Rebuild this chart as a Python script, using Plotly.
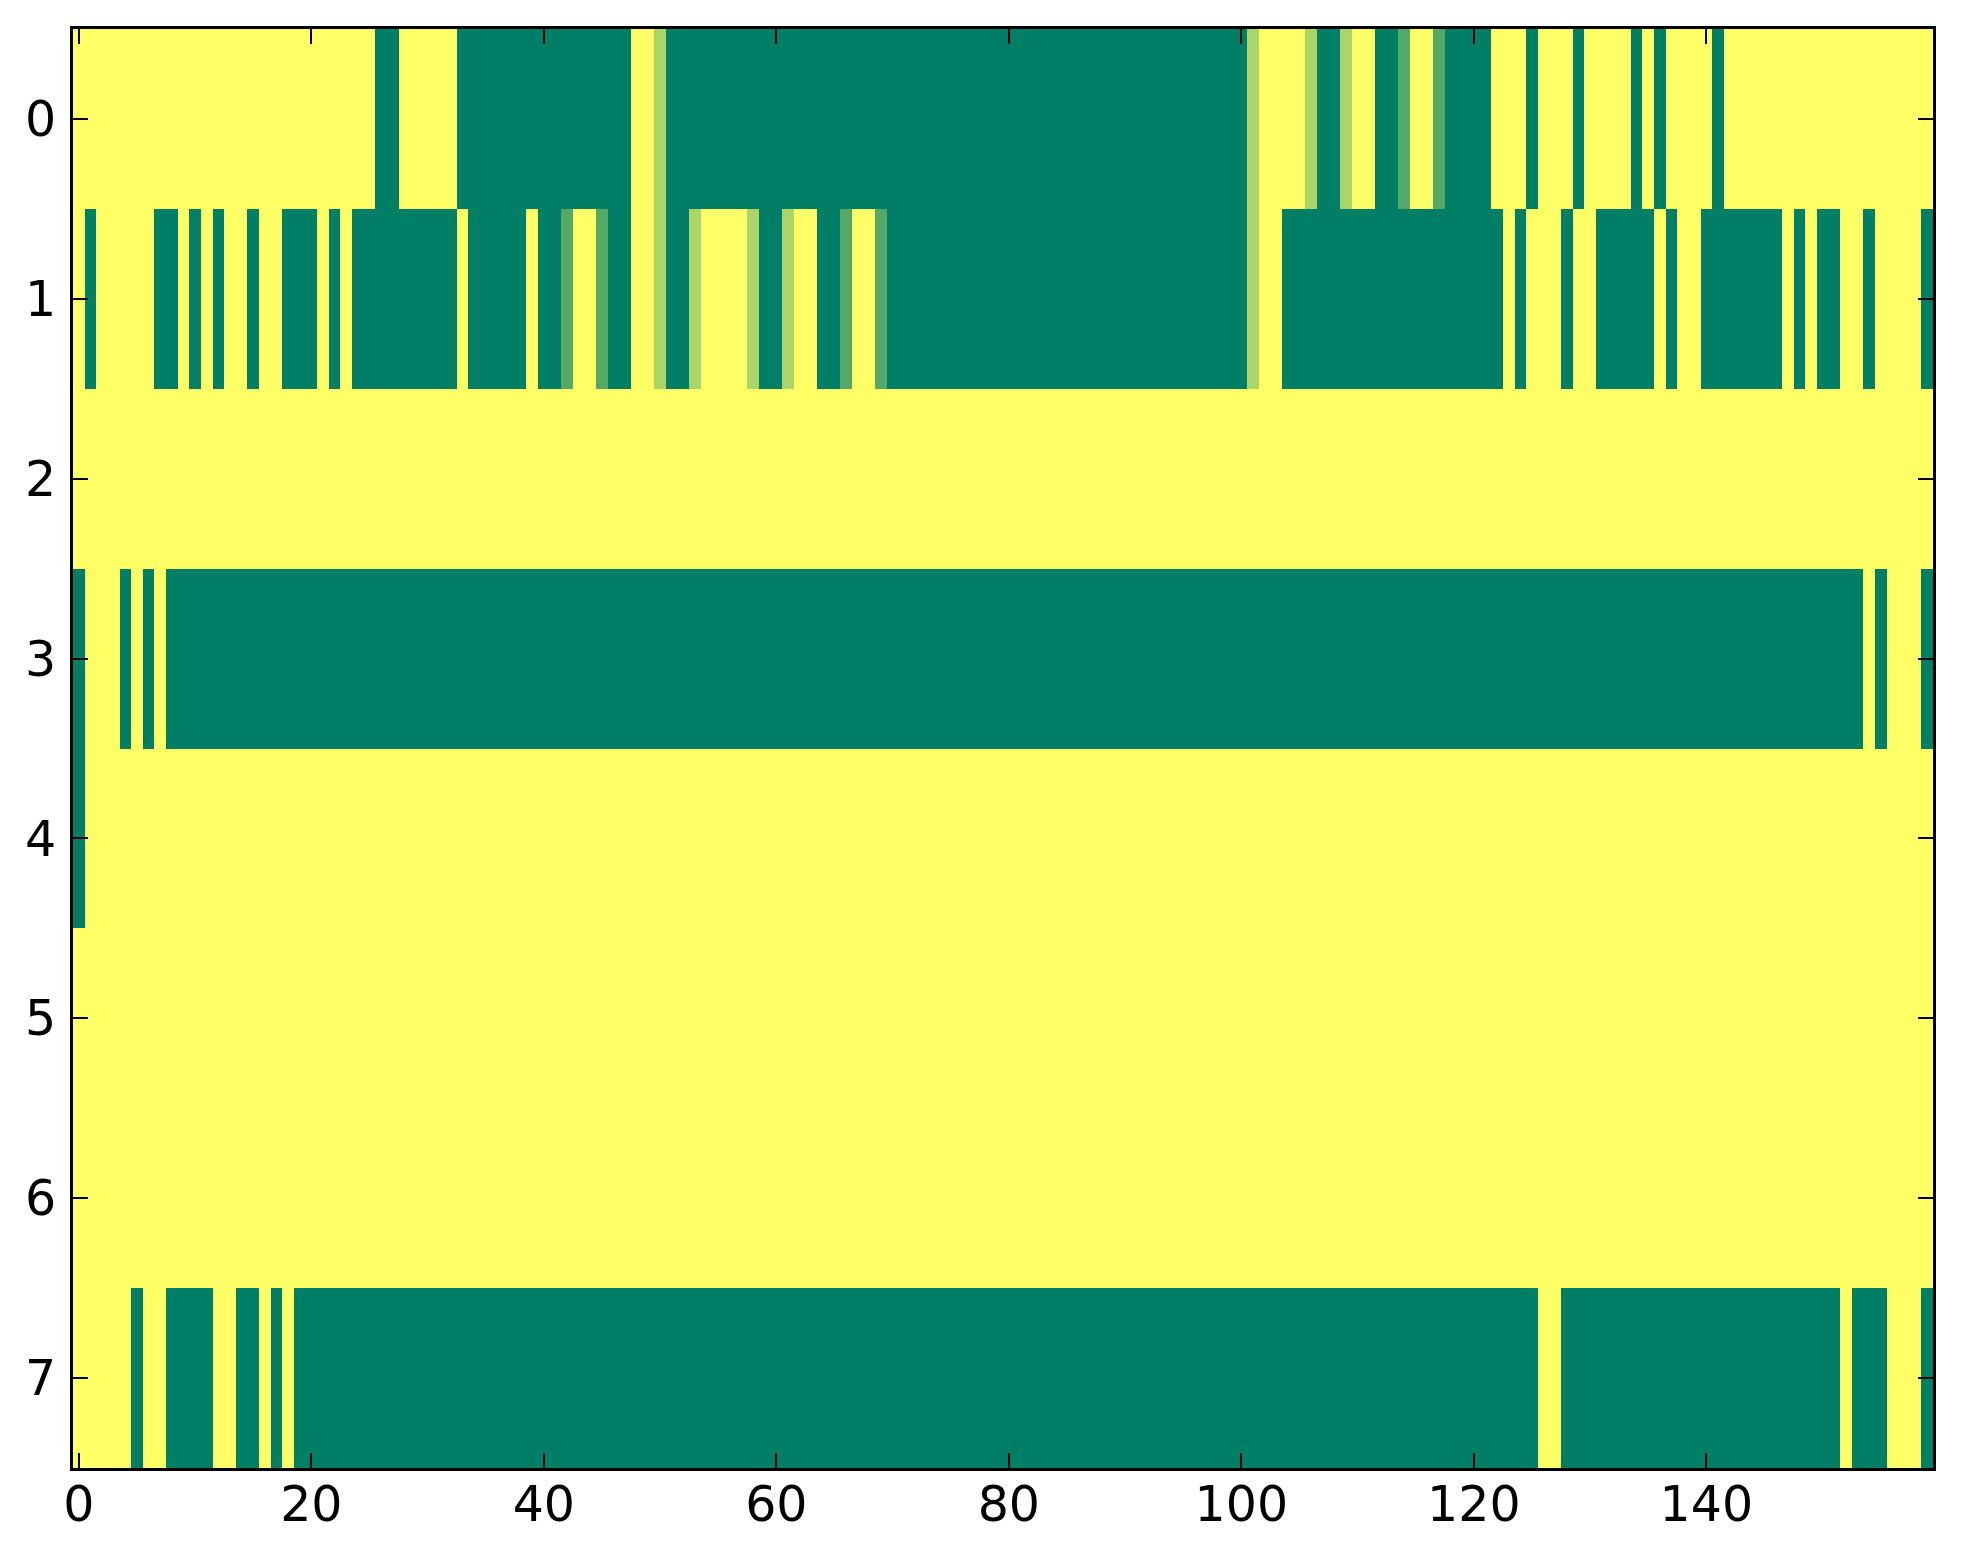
import plotly.graph_objects as go

# values per cell (0 = dark green, 1 = yellow)
row0 = [1, 1, 1, 1, 1, 1, 1, 1, 1, 1, 1, 1, 1, 1, 1, 1, 1, 1, 1, 1,
        1, 1, 1, 1, 1, 1, 0, 0, 1, 1, 1, 1, 1, 0, 0, 0, 0, 0, 0, 0,
        0, 0, 0, 0, 0, 0, 0, 0, 1, 1, .67, 0, 0, 0, 0, 0, 0, 0, 0, 0,
        0, 0, 0, 0, 0, 0, 0, 0, 0, 0, 0, 0, 0, 0, 0, 0, 0, 0, 0, 0,
        0, 0, 0, 0, 0, 0, 0, 0, 0, 0, 0, 0, 0, 0, 0, 0, 0, 0, 0, 0,
        0, .67, 1, 1, 1, 1, .67, 0, 0, .67, 1, 1, 0, 0, .33, 1, 1, .33, 0, 0,
        0, 0, 1, 1, 1, 0, 1, 1, 1, 0, 1, 1, 1, 1, 0, 1, 0, 1, 1, 1,
        1, 0, 1, 1, 1, 1, 1, 1, 1, 1, 1, 1, 1, 1, 1, 1, 1, 1, 1, 1]

row1 = [1, 0, 1, 1, 1, 1, 1, 0, 0, 1, 0, 1, 0, 1, 1, 0, 1, 1, 0, 0,
        0, 1, 0, 1, 0, 0, 0, 0, 0, 0, 0, 0, 0, 1, 0, 0, 0, 0, 0, 1,
        0, 0, .33, 1, 1, .33, 0, 0, 1, 1, .67, 0, 0, .67, 1, 1, 1, 1, .67, 0,
        0, .67, 1, 1, 0, 0, .33, 1, 1, .33, 0, 0, 0, 0, 0, 0, 0, 0, 0, 0,
        0, 0, 0, 0, 0, 0, 0, 0, 0, 0, 0, 0, 0, 0, 0, 0, 0, 0, 0, 0,
        0, .67, 1, 1, 0, 0, 0, 0, 0, 0, 0, 0, 0, 0, 0, 0, 0, 0, 0, 0,
        0, 0, 0, 1, 0, 1, 1, 1, 0, 1, 1, 0, 0, 0, 0, 0, 1, 0, 1, 1,
        0, 0, 0, 0, 0, 0, 0, 1, 0, 1, 0, 0, 1, 1, 0, 1, 1, 1, 1, 0]

row2 = [1, 1, 1, 1, 1, 1, 1, 1, 1, 1, 1, 1, 1, 1, 1, 1, 1, 1, 1, 1,
        1, 1, 1, 1, 1, 1, 1, 1, 1, 1, 1, 1, 1, 1, 1, 1, 1, 1, 1, 1,
        1, 1, 1, 1, 1, 1, 1, 1, 1, 1, 1, 1, 1, 1, 1, 1, 1, 1, 1, 1,
        1, 1, 1, 1, 1, 1, 1, 1, 1, 1, 1, 1, 1, 1, 1, 1, 1, 1, 1, 1,
        1, 1, 1, 1, 1, 1, 1, 1, 1, 1, 1, 1, 1, 1, 1, 1, 1, 1, 1, 1,
        1, 1, 1, 1, 1, 1, 1, 1, 1, 1, 1, 1, 1, 1, 1, 1, 1, 1, 1, 1,
        1, 1, 1, 1, 1, 1, 1, 1, 1, 1, 1, 1, 1, 1, 1, 1, 1, 1, 1, 1,
        1, 1, 1, 1, 1, 1, 1, 1, 1, 1, 1, 1, 1, 1, 1, 1, 1, 1, 1, 1]

row3 = [0, 1, 1, 1, 0, 1, 0, 1, 0, 0, 0, 0, 0, 0, 0, 0, 0, 0, 0, 0,
        0, 0, 0, 0, 0, 0, 0, 0, 0, 0, 0, 0, 0, 0, 0, 0, 0, 0, 0, 0,
        0, 0, 0, 0, 0, 0, 0, 0, 0, 0, 0, 0, 0, 0, 0, 0, 0, 0, 0, 0,
        0, 0, 0, 0, 0, 0, 0, 0, 0, 0, 0, 0, 0, 0, 0, 0, 0, 0, 0, 0,
        0, 0, 0, 0, 0, 0, 0, 0, 0, 0, 0, 0, 0, 0, 0, 0, 0, 0, 0, 0,
        0, 0, 0, 0, 0, 0, 0, 0, 0, 0, 0, 0, 0, 0, 0, 0, 0, 0, 0, 0,
        0, 0, 0, 0, 0, 0, 0, 0, 0, 0, 0, 0, 0, 0, 0, 0, 0, 0, 0, 0,
        0, 0, 0, 0, 0, 0, 0, 0, 0, 0, 0, 0, 0, 0, 1, 0, 1, 1, 1, 0]

row4 = [0, 1, 1, 1, 1, 1, 1, 1, 1, 1, 1, 1, 1, 1, 1, 1, 1, 1, 1, 1,
        1, 1, 1, 1, 1, 1, 1, 1, 1, 1, 1, 1, 1, 1, 1, 1, 1, 1, 1, 1,
        1, 1, 1, 1, 1, 1, 1, 1, 1, 1, 1, 1, 1, 1, 1, 1, 1, 1, 1, 1,
        1, 1, 1, 1, 1, 1, 1, 1, 1, 1, 1, 1, 1, 1, 1, 1, 1, 1, 1, 1,
        1, 1, 1, 1, 1, 1, 1, 1, 1, 1, 1, 1, 1, 1, 1, 1, 1, 1, 1, 1,
        1, 1, 1, 1, 1, 1, 1, 1, 1, 1, 1, 1, 1, 1, 1, 1, 1, 1, 1, 1,
        1, 1, 1, 1, 1, 1, 1, 1, 1, 1, 1, 1, 1, 1, 1, 1, 1, 1, 1, 1,
        1, 1, 1, 1, 1, 1, 1, 1, 1, 1, 1, 1, 1, 1, 1, 1, 1, 1, 1, 1]

row5 = list(row2)
row6 = list(row2)

row7 = [1, 1, 1, 1, 1, 0, 1, 1, 0, 0, 0, 0, 1, 1, 0, 0, 1, 0, 1, 0,
        0, 0, 0, 0, 0, 0, 0, 0, 0, 0, 0, 0, 0, 0, 0, 0, 0, 0, 0, 0,
        0, 0, 0, 0, 0, 0, 0, 0, 0, 0, 0, 0, 0, 0, 0, 0, 0, 0, 0, 0,
        0, 0, 0, 0, 0, 0, 0, 0, 0, 0, 0, 0, 0, 0, 0, 0, 0, 0, 0, 0,
        0, 0, 0, 0, 0, 0, 0, 0, 0, 0, 0, 0, 0, 0, 0, 0, 0, 0, 0, 0,
        0, 0, 0, 0, 0, 0, 0, 0, 0, 0, 0, 0, 0, 0, 0, 0, 0, 0, 0, 0,
        0, 0, 0, 0, 0, 0, 1, 1, 0, 0, 0, 0, 0, 0, 0, 0, 0, 0, 0, 0,
        0, 0, 0, 0, 0, 0, 0, 0, 0, 0, 0, 0, 1, 0, 0, 0, 1, 1, 1, 0]

rows = [row0, row1, row2, row3, row4, row5, row6, row7]
for r in rows:
    assert len(r) == 160, len(r)

x_ticks = [0, 20, 40, 60, 80, 100, 120, 140]
y_ticks = [0, 1, 2, 3, 4, 5, 6, 7]

# matplotlib "summer": green (0) -> yellow (1), linear in rgb
summer = [[0.0, 'rgb(0,127,102)'], [1.0, 'rgb(255,255,102)']]

fig = go.Figure()
fig.add_trace(go.Heatmap(z=rows, x0=0, dx=1, y0=0, dy=1,
                         colorscale=summer, zmin=0, zmax=1,
                         showscale=False, hoverinfo='skip'))

axis_style = dict(showline=True, linecolor='black', linewidth=3,
                  mirror='ticks', ticks='inside', ticklen=15, tickwidth=1.5,
                  tickcolor='black', showgrid=False, zeroline=False)

fig.update_xaxes(range=[-0.5, 159.5], tickvals=x_ticks,
                 ticklabelstandoff=-9, **axis_style)
fig.update_yaxes(range=[7.5, -0.5], tickvals=y_ticks,
                 ticklabelstandoff=4, **axis_style)

# page body has an 8px margin, so the figure is a little smaller than the window
fig.update_layout(
    width=1947,
    height=1548,
    autosize=False,
    margin=dict(l=65, r=22, t=21, b=88),
    paper_bgcolor='white',
    plot_bgcolor='white',
    font=dict(family='DejaVu Sans', size=49, color='black'),
)

fig.write_html("out.html")
